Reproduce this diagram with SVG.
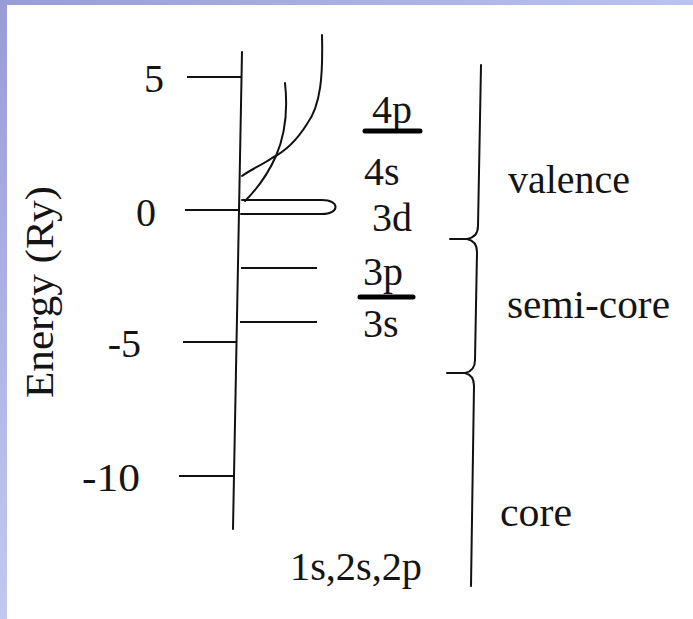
<svg xmlns="http://www.w3.org/2000/svg" width="693" height="619" viewBox="0 0 693 619">
<defs>
<linearGradient id="gTop" x1="0" y1="0" x2="1" y2="0"><stop offset="0" stop-color="#979dd5"/><stop offset="1" stop-color="#bac3ef"/></linearGradient>
<linearGradient id="gLeft" x1="0" y1="0" x2="0" y2="1"><stop offset="0" stop-color="#979dd5"/><stop offset="1" stop-color="#c1c9f1"/></linearGradient>
</defs>
<style>
.ln{fill:none;stroke:#111;stroke-width:2;stroke-linecap:round;stroke-linejoin:round}
.tk{fill:none;stroke:#111;stroke-width:1.8}
.ul{fill:none;stroke:#000;stroke-width:5;stroke-linecap:round}
.t{font-family:"Liberation Serif","Times New Roman",serif;font-size:40px;fill:#141414}
</style>
<rect width="693" height="619" fill="#fff"/>
<rect x="0" y="0" width="693" height="5" fill="url(#gTop)"/>
<rect x="0" y="0" width="7" height="619" fill="url(#gLeft)"/>

<g id="axis">
<line class="ln" x1="242" y1="52" x2="233" y2="529"/>
<line class="tk" x1="187" y1="77" x2="241" y2="77"/>
<line class="tk" x1="185" y1="210" x2="240" y2="210"/>
<line class="tk" x1="183" y1="342" x2="237" y2="342"/>
<line class="tk" x1="179" y1="476" x2="234" y2="476"/>
<text class="t" x="164" y="92" text-anchor="end">5</text>
<text class="t" x="156" y="226" text-anchor="end">0</text>
<text class="t" x="141" y="357" text-anchor="end">-5</text>
<text class="t" x="140" y="491" text-anchor="end" textLength="58" lengthAdjust="spacingAndGlyphs">-10</text>
<text class="t" transform="translate(53,292) rotate(-90)" text-anchor="middle" textLength="212" lengthAdjust="spacingAndGlyphs">Energy (Ry)</text>
</g>

<g id="curves">
<path class="ln" d="M322,35 C323,75 321,105 307,124 C297,140 284,152 272,158 C262,165 250,170 242,176"/>
<path class="ln" d="M285,83 C288,110 285,135 276,156 C268,174 256,190 245,201"/>
<path class="ln" d="M242,200 L322,200 C340,200 340,214 322,214 L241,214"/>
<line class="tk" x1="241" y1="268" x2="317" y2="268"/>
<line class="tk" x1="240" y1="322" x2="317" y2="322"/>
</g>

<g id="levels">
<text class="t" x="372" y="123">4p</text>
<line class="ul" x1="365" y1="131" x2="420" y2="131"/>
<text class="t" x="364" y="185">4s</text>
<text class="t" x="372" y="231">3d</text>
<text class="t" x="363" y="285">3p</text>
<line class="ul" x1="360" y1="297" x2="413" y2="297"/>
<text class="t" x="363" y="337">3s</text>
<text class="t" x="290" y="580" textLength="132" lengthAdjust="spacingAndGlyphs">1s,2s,2p</text>
</g>

<g id="brace">
<path class="ln" d="M481,65 L478,226 Q478,237 467,239 M450,239 L467,239 Q477,241 477,252 L475,360 Q475,371 465,373 M447,373 L465,373 Q474,375 474,386 L471,586"/>
<text class="t" x="508" y="193" textLength="122" lengthAdjust="spacingAndGlyphs">valence</text>
<text class="t" x="507" y="318" textLength="163" lengthAdjust="spacingAndGlyphs">semi-core</text>
<text class="t" x="500" y="526" textLength="72" lengthAdjust="spacingAndGlyphs">core</text>
</g>
</svg>
